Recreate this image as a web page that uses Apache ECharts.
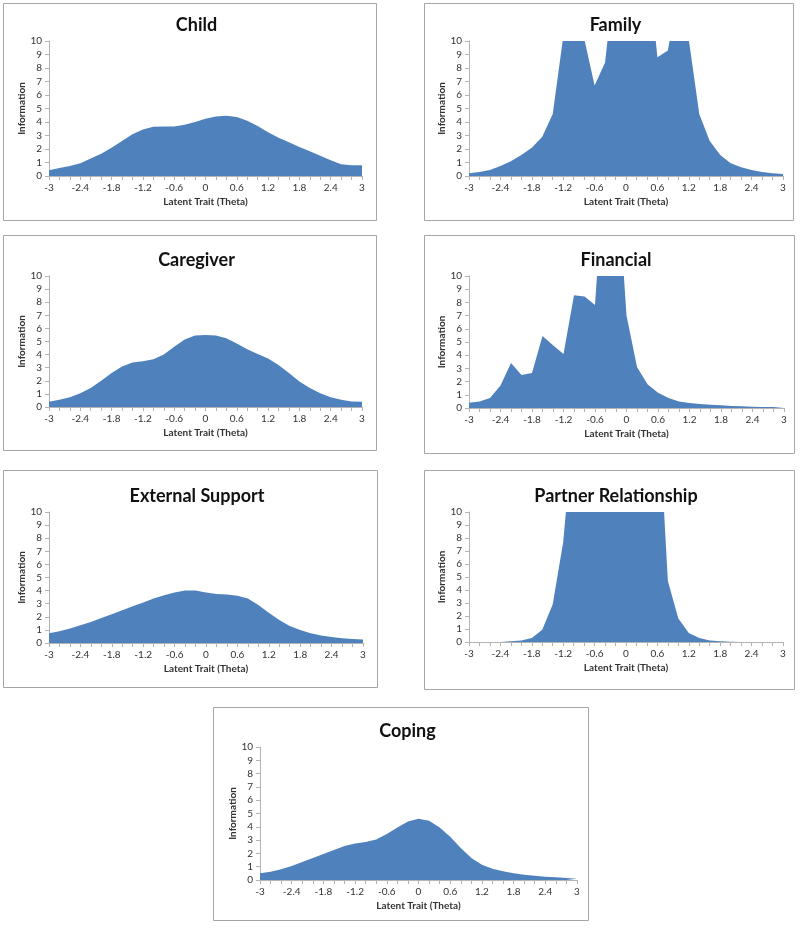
<!DOCTYPE html>
<html>
<head>
<meta charset="utf-8">
<script src="https://cdn.jsdelivr.net/npm/echarts@6/dist/echarts.min.js"></script>
<style>
  html, body { margin: 0; padding: 0; background: #fff; }
  #main { width: 800px; height: 928px; }
</style>
</head>
<body>
<div id="main"></div>
<script>
// theta grid, -3 .. 3 in steps of 0.2
const theta = ['-3', '-2.8', '-2.6', '-2.4', '-2.2', '-2', '-1.8', '-1.6', '-1.4', '-1.2', '-1',
  '-0.8', '-0.6', '-0.4', '-0.2', '0', '0.2', '0.4', '0.6', '0.8', '1',
  '1.2', '1.4', '1.6', '1.8', '2', '2.2', '2.4', '2.6', '2.8', '3'];

// information values (the plot is cut off at 10)
const child = [0.42, 0.6, 0.75, 0.95, 1.3, 1.65, 2.1, 2.6, 3.1, 3.45, 3.65,
  3.67, 3.67, 3.8, 4.0, 4.25, 4.4, 4.47, 4.37, 4.1, 3.7,
  3.25, 2.83, 2.5, 2.15, 1.83, 1.5, 1.17, 0.87, 0.8, 0.8];
const family = [0.2, 0.3, 0.45, 0.75, 1.1, 1.55, 2.1, 2.9, 4.6, 10.3, 14,
  10.2, 6.7, 8.4, 15.4, 20, 20, 16.5, 8.8, 9.3, 13.6,
  10.1, 4.6, 2.6, 1.55, 0.95, 0.65, 0.45, 0.3, 0.2, 0.15];
const caregiver = [0.4, 0.55, 0.75, 1.05, 1.45, 2.0, 2.6, 3.1, 3.4, 3.5, 3.65,
  4.0, 4.6, 5.15, 5.45, 5.5, 5.45, 5.25, 4.85, 4.4, 4.05,
  3.7, 3.2, 2.6, 1.95, 1.45, 1.05, 0.75, 0.55, 0.42, 0.4];
const financial = [0.4, 0.5, 0.75, 1.7, 3.4, 2.5, 2.65, 5.45, 4.75, 4.1, 8.55,
  8.45, 7.8, 19.5, 19, 7.0, 3.1, 1.8, 1.15, 0.75, 0.5,
  0.38, 0.3, 0.25, 0.2, 0.16, 0.13, 0.1, 0.08, 0.07, 0.06];
const external = [0.75, 0.9, 1.1, 1.35, 1.6, 1.9, 2.2, 2.5, 2.8, 3.1, 3.4,
  3.65, 3.85, 4.0, 4.0, 3.85, 3.75, 3.7, 3.6, 3.4, 2.9,
  2.3, 1.75, 1.3, 1.0, 0.75, 0.58, 0.45, 0.37, 0.3, 0.27];
const partner = [0, 0, 0, 0, 0.05, 0.12, 0.3, 0.95, 2.9, 7.7, 16.6,
  25, 30, 30, 30, 30, 30, 25, 19.3, 4.7, 1.8,
  0.7, 0.3, 0.12, 0.05, 0.02, 0, 0, 0, 0, 0];
const coping = [0.5, 0.62, 0.8, 1.05, 1.35, 1.65, 1.95, 2.25, 2.55, 2.75, 2.85,
  3.05, 3.45, 3.95, 4.4, 4.6, 4.45, 3.95, 3.25, 2.4, 1.65,
  1.15, 0.85, 0.65, 0.5, 0.4, 0.32, 0.25, 0.2, 0.15, 0.1];

const titles = ['Child', 'Family', 'Caregiver', 'Financial', 'External Support', 'Partner Relationship', 'Coping'];
const seriesData = [child, family, caregiver, financial, external, partner, coping];

// panel layout: box [x, y, w, h], plot [left, top, width, height]
const panels = [
  { box: [3, 3, 373, 217], plot: [49, 41, 313, 135] },
  { box: [424, 3, 369, 217], plot: [469, 41, 314, 135] },
  { box: [3, 235, 373, 215], plot: [49, 276, 313, 131] },
  { box: [424, 235, 370, 218], plot: [469, 276, 315, 132] },
  { box: [3, 470, 374, 217], plot: [49, 512, 314, 131] },
  { box: [424, 470, 370, 219], plot: [469, 512, 314, 130] },
  { box: [213, 707, 375, 213], plot: [260, 747, 317, 133] }
];

const font = 'Lato, "Open Sans", sans-serif';
const axisGrey = '#b3b3b3';
const textColor = '#333';

let chart = echarts.init(document.getElementById('main'));

let grids = [], xAxes = [], yAxes = [], series = [], title = [], graphic = [];

panels.forEach(function (p, i) {
  graphic.push({
    type: 'rect',
    shape: { x: p.box[0] + 0.5, y: p.box[1] + 0.5, width: p.box[2], height: p.box[3] },
    style: { fill: '#fff', stroke: '#a6a6a6', lineWidth: 1 },
    z: -10
  });
  title.push({
    text: titles[i],
    left: p.box[0] + p.box[2] / 2 + 2,
    top: p.plot[1] - 30,
    textAlign: 'center',
    textStyle: { fontFamily: font, fontSize: 18, fontWeight: 'bold', color: '#111' }
  });
  grids.push({ left: p.plot[0], top: p.plot[1], width: p.plot[2], height: p.plot[3], containLabel: false });
  xAxes.push({
    type: 'category',
    gridIndex: i,
    data: theta,
    boundaryGap: false,
    name: 'Latent Trait (Theta)',
    nameLocation: 'middle',
    nameGap: 21,
    nameTextStyle: { fontFamily: font, fontSize: 10, fontWeight: 'bold', color: textColor },
    axisLine: { lineStyle: { color: axisGrey } },
    axisTick: { show: true, interval: 0, length: 4, lineStyle: { color: axisGrey } },
    axisLabel: { interval: 2, margin: 7, fontFamily: font, fontSize: 10, color: textColor },
    splitLine: { show: false }
  });
  yAxes.push({
    type: 'value',
    gridIndex: i,
    min: 0,
    max: 10,
    interval: 1,
    name: 'Information',
    nameLocation: 'middle',
    nameGap: 22,
    nameTextStyle: { fontFamily: font, fontSize: 10, fontWeight: 'bold', color: textColor },
    axisLine: { show: true, lineStyle: { color: axisGrey } },
    axisTick: { show: true, length: 4, lineStyle: { color: axisGrey } },
    axisLabel: { margin: 7, fontFamily: font, fontSize: 10, color: textColor },
    splitLine: { show: false }
  });
  series.push({
    type: 'line',
    xAxisIndex: i,
    yAxisIndex: i,
    data: seriesData[i],
    showSymbol: false,
    clip: true,
    lineStyle: { width: 0 },
    areaStyle: { color: '#4f81bd', opacity: 1 },
    silent: true
  });
});

chart.setOption({
  animation: false,
  backgroundColor: '#fff',
  title: title,
  graphic: graphic,
  grid: grids,
  xAxis: xAxes,
  yAxis: yAxes,
  series: series
});
</script>
</body>
</html>
